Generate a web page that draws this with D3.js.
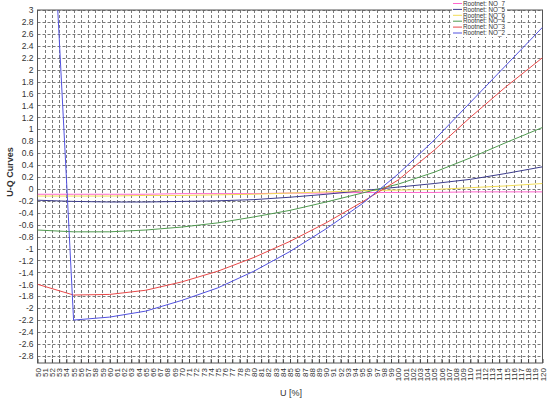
<!DOCTYPE html>
<html>
<head>
<meta charset="utf-8">
<script src="https://cdn.jsdelivr.net/npm/d3@7.9.0/dist/d3.min.js"></script>
<style>
  body { margin: 0; background: #fff; }
  svg { display: block; font-family: "Liberation Sans", Arial, sans-serif; }
</style>
</head>
<body>
<svg width="550" height="402"></svg>
<script>
// U values (percent) shared by most series
const uGrid = [50, 55, 60, 65, 70, 75, 80, 85, 90, 95, 100, 105, 110, 115, 120];

// Q values
const qNO7 = [-0.09, -0.09, -0.09, -0.09, -0.08, -0.08, -0.08, -0.07, -0.07, -0.06, -0.06, -0.06, -0.05, -0.05, -0.05];
const qNO5 = [-0.19, -0.21, -0.22, -0.22, -0.21, -0.2, -0.18, -0.14, -0.09, -0.03, 0.03, 0.09, 0.16, 0.26, 0.37];
const qNO6 = [-0.12, -0.12, -0.12, -0.11, -0.11, -0.1, -0.09, -0.07, -0.05, -0.03, -0.02, -0.01, 0.02, 0.05, 0.09];
const qNO4 = [-0.69, -0.72, -0.72, -0.69, -0.64, -0.57, -0.47, -0.36, -0.22, -0.07, 0.08, 0.28, 0.52, 0.78, 1.03];
const qNO3 = [-1.6, -1.78, -1.77, -1.7, -1.56, -1.38, -1.15, -0.88, -0.57, -0.22, 0.15, 0.65, 1.2, 1.72, 2.2];

// NO_2 has its own U values (steep part below 55)
const uNO2 = [52, 53, 54, 55, 60, 65, 70, 75, 80, 85, 90, 95, 100, 105, 110, 115, 120];
const qNO2 = [4.9, 2.55, 0.2, -2.2, -2.15, -2.05, -1.87, -1.66, -1.38, -1.05, -0.67, -0.25, 0.25, 0.82, 1.45, 2.08, 2.71];

const seriesNames = ['Rootnet: NO_7', 'Rootnet: NO_5', 'Rootnet: NO_6', 'Rootnet: NO_4', 'Rootnet: NO_3', 'Rootnet: NO_2'];
const seriesColors = ['#ff66cc', '#3c3c8c', '#f2dc55', '#4f9a4f', '#e84848', '#5252e0'];

const xTicks = d3.range(50, 121);
const yTicks = d3.range(-14, 16).map(i => +(i * 0.2).toFixed(1));

const series = [
  uGrid.map((u, i) => [u, qNO7[i]]),
  uGrid.map((u, i) => [u, qNO5[i]]),
  uGrid.map((u, i) => [u, qNO6[i]]),
  uGrid.map((u, i) => [u, qNO4[i]]),
  uGrid.map((u, i) => [u, qNO3[i]]),
  uNO2.map((u, i) => [u, qNO2[i]]),
];

const plotLeft = 37.5, plotRight = 542.5, plotTop = 10, plotBottom = 363;

let x = d3.scaleLinear().domain([50, 120]).range([plotLeft, plotRight]);
let y = d3.scaleLinear().domain([-2.92, 3]).range([plotBottom, plotTop]);

let svg = d3.select('svg');

svg.append('defs').append('clipPath').attr('id', 'plot')
  .append('rect')
  .attr('x', plotLeft).attr('y', plotTop)
  .attr('width', plotRight - plotLeft).attr('height', plotBottom - plotTop);

// grid
let grid = svg.append('g').attr('stroke', '#7a7a7a').attr('stroke-dasharray', '3,2').attr('stroke-width', 1);
xTicks.slice(1, -1).forEach(t => {
  grid.append('line')
    .attr('x1', Math.round(x(t)) + 0.5).attr('x2', Math.round(x(t)) + 0.5)
    .attr('y1', plotTop).attr('y2', plotBottom);
});
yTicks.forEach(t => {
  grid.append('line')
    .attr('x1', plotLeft).attr('x2', plotRight)
    .attr('y1', Math.round(y(t)) + 0.5).attr('y2', Math.round(y(t)) + 0.5);
});

// axes
let xAxis = svg.append('g')
  .attr('transform', `translate(0,${plotBottom})`)
  .call(d3.axisBottom(x).tickValues(xTicks).tickSize(-4).tickSizeOuter(0).tickFormat(d3.format('d')));
xAxis.select('.domain').remove();
xAxis.selectAll('line').attr('stroke', '#444');
xAxis.selectAll('text')
  .attr('transform', 'rotate(-90)')
  .attr('text-anchor', 'end')
  .attr('x', -5).attr('y', 0).attr('dy', '0.33em')
  .attr('font-size', 8).attr('fill', '#333');

let yAxis = svg.append('g')
  .attr('transform', `translate(${plotLeft},0)`)
  .call(d3.axisLeft(y).tickValues(yTicks).tickSize(0).tickPadding(4).tickFormat(d => String(d)));
yAxis.select('.domain').remove();
yAxis.selectAll('text').attr('font-size', 8.5).attr('fill', '#333');

// frame
svg.append('rect')
  .attr('x', plotLeft).attr('y', plotTop)
  .attr('width', plotRight - plotLeft).attr('height', plotBottom - plotTop)
  .attr('fill', 'none').attr('stroke', '#555');

// curves
let line = d3.line().x(d => x(d[0])).y(d => y(d[1]));
let curves = svg.append('g').attr('clip-path', 'url(#plot)');
series.forEach((s, idx) => {
  curves.append('path')
    .attr('d', line(s))
    .attr('fill', 'none')
    .attr('stroke', seriesColors[idx])
    .attr('stroke-width', 1);
});

// legend
let legend = svg.append('g').attr('transform', 'translate(452,0)');
legend.append('rect').attr('x', 0).attr('y', 0).attr('width', 55).attr('height', 37).attr('fill', '#fff');
seriesNames.forEach((name, idx) => {
  let ly = 3.5 + idx * 5.9;
  legend.append('line')
    .attr('x1', 1).attr('x2', 10).attr('y1', ly).attr('y2', ly)
    .attr('stroke', seriesColors[idx]);
  legend.append('text')
    .attr('x', 11).attr('y', ly).attr('dy', '0.35em')
    .attr('font-size', 6.3).attr('fill', '#333')
    .text(name);
});

// titles
svg.append('text')
  .attr('transform', 'translate(13,172) rotate(-90)')
  .attr('text-anchor', 'middle')
  .attr('font-size', 9).attr('font-weight', 'bold').attr('fill', '#333')
  .text('U-Q Curves');

svg.append('text')
  .attr('x', 291).attr('y', 396)
  .attr('text-anchor', 'middle')
  .attr('font-size', 9).attr('fill', '#333')
  .text('U [%]');
</script>
</body>
</html>
